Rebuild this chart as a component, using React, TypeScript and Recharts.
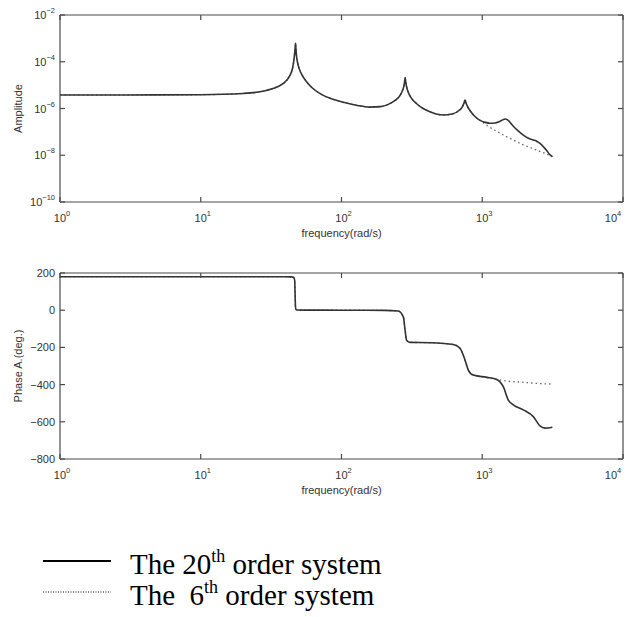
import React from 'react';
import { LineChart, Line, XAxis, YAxis } from 'recharts';

// ---------- data ----------
const freqTicks = [1, 10, 100, 1000, 10000];
const ampTicks = [1e-10, 1e-8, 1e-6, 1e-4, 1e-2];
const phaseTicks = [-800, -600, -400, -200, 0, 200];

// amplitude, 20th order system
const ampFreq20 = [1, 3, 10, 20, 27, 33, 37, 40.8, 43, 44.8, 46.0, 46.6, 47.0, 47.15, 47.3, 47.8, 48.6, 50, 53.5, 58, 63, 72, 85, 105, 130, 159, 190, 215, 240, 258, 270, 278, 282, 283.5, 285, 290, 298, 312, 342, 380, 425, 526, 610, 680, 720, 742, 752, 756, 765, 790, 818, 880, 964, 1050, 1135, 1230, 1330, 1420, 1460, 1520, 1662, 1800, 1957, 2150, 2305, 2450, 2570, 2720, 2870, 3000, 3150];
const amp20 = [3.8e-6, 3.8e-6, 3.9e-6, 4.4e-6, 5.3e-6, 7.3e-6, 1.0e-5, 1.6e-5, 2.6e-5, 5.0e-5, 1.3e-4, 2.7e-4, 5.0e-4, 6.2e-4, 4.8e-4, 2.0e-4, 1.0e-4, 5.2e-5, 2.2e-5, 1.15e-5, 7.0e-6, 4.0e-6, 2.6e-6, 1.8e-6, 1.35e-6, 1.15e-6, 1.2e-6, 1.5e-6, 2.2e-6, 3.3e-6, 5.5e-6, 9.5e-6, 1.7e-5, 2.1e-5, 1.6e-5, 8.5e-6, 5.0e-6, 2.9e-6, 1.6e-6, 1.0e-6, 7.3e-7, 5.3e-7, 5.8e-7, 8.0e-7, 1.15e-6, 1.7e-6, 2.2e-6, 2.3e-6, 1.8e-6, 1.15e-6, 8.2e-7, 4.8e-7, 3.1e-7, 2.55e-7, 2.35e-7, 2.4e-7, 2.8e-7, 3.4e-7, 3.55e-7, 3.2e-7, 1.75e-7, 1.1e-7, 7.3e-8, 5.2e-8, 4.5e-8, 3.9e-8, 3.2e-8, 2.3e-8, 1.6e-8, 1.1e-8, 8.7e-9];

// amplitude, 6th order system: identical up to the branch point, then its own tail
const ampBranch6 = 964;
const ampFreq6Tail = [1100, 1267, 1450, 1662, 1900, 2183, 2500, 2870, 3150];
const amp6Tail = [1.75e-7, 1.05e-7, 6.8e-8, 4.5e-8, 3.0e-8, 2.15e-8, 1.55e-8, 1.12e-8, 8.7e-9];

// phase, 20th order system
const phaseFreq20 = [1, 10, 40, 44, 45.8, 46.5, 46.8, 47.1, 47.5, 48.5, 55, 100, 200, 253, 275, 283, 290, 307, 425, 623, 695, 754, 796, 863, 1076, 1267, 1411, 1532, 1662, 1957, 2305, 2570, 2792, 3150];
const phase20 = [180, 180, 180, 179, 176, 160, 90, 20, 4, 1, 0.5, 0, -1, -4, -36, -107, -161, -173, -175, -184, -205, -268, -322, -349, -361, -372, -411, -483, -509, -536, -572, -622, -634, -629];

// phase, 6th order system
const phaseBranch6 = 1267;
const phaseFreq6Tail = [1500, 2000, 2600, 3150];
const phase6Tail = [-381, -388, -395, -397];

const legendItems = [
  { pre: 'The 20', sup: 'th', post: ' order system', dashed: false },
  { pre: 'The  6', sup: 'th', post: ' order system', dashed: true },
];

// ---------- build series ----------
const zip = (fs: number[], vs: number[]) => fs.map((f, i) => ({ f, v: vs[i] }));
const amp20Data = zip(ampFreq20, amp20);
const amp6Data = [...amp20Data.filter((d) => d.f <= ampBranch6), ...zip(ampFreq6Tail, amp6Tail)];
const phase20Data = zip(phaseFreq20, phase20);
const phase6Data = [...phase20Data.filter((d) => d.f <= phaseBranch6), ...zip(phaseFreq6Tail, phase6Tail)];

// ---------- styles ----------
const sans = '"Liberation Sans", Arial, Helvetica, sans-serif';
const serif = '"Liberation Serif", "Times New Roman", serif';
const axisColor = '#4a4a4a';
const textColor = '#333';
const curveColor = '#333';
const W = 631;

const supText = (e: number) => (e < 0 ? '\u2212' + -e : String(e));

const PowXTick = (props: any) => {
  const { x, y, payload } = props;
  const e = Math.round(Math.log10(payload.value));
  return (
    <text x={x + 2} y={y + 20} textAnchor="middle" fontFamily={sans} fontSize={11} fill={textColor}>
      <tspan>10</tspan>
      <tspan dy={-6} fontSize={7.5}>{supText(e)}</tspan>
    </text>
  );
};

const PowYTick = (props: any) => {
  const { x, y, payload } = props;
  const e = Math.round(Math.log10(payload.value));
  return (
    <text x={x} y={y + 4} textAnchor="end" fontFamily={sans} fontSize={11} fill={textColor}>
      <tspan>10</tspan>
      <tspan dy={-6} fontSize={7.5}>{supText(e)}</tspan>
    </text>
  );
};

const NumYTick = (props: any) => {
  const { x, y, payload } = props;
  const v = payload.value;
  const s = v < 0 ? '\u2212' + -v : String(v);
  return (
    <text x={x} y={y + 4} textAnchor="end" fontFamily={sans} fontSize={11} fill={textColor}>
      {s}
    </text>
  );
};

const NoTick = () => <g />;

const xTitle = (text: string) => (p: any) => {
  const vb = p.viewBox || {};
  return (
    <text x={vb.x + vb.width / 2} y={vb.y + 35} textAnchor="middle" fontFamily={sans} fontSize={11} fill={textColor}>
      {text}
    </text>
  );
};

const yTitle = (text: string) => (p: any) => {
  const vb = p.viewBox || {};
  const cx = 18;
  const cy = vb.y + vb.height / 2;
  return (
    <text x={cx} y={cy} textAnchor="middle" dominantBaseline="central" transform={`rotate(-90, ${cx}, ${cy})`} fontFamily={sans} fontSize={11} fill={textColor}>
      {text}
    </text>
  );
};

// top and right axes close the box (MATLAB style, ticks pointing inward)
const frameAxes = (yDomain: number[], yTicks: number[], yScale: 'log' | 'linear', data: any[]) => [
  <XAxis
    key="xt"
    xAxisId="top"
    dataKey="f"
    orientation="top"
    type="number"
    scale="log"
    domain={[1, 10000]}
    ticks={freqTicks}
    allowDataOverflow
    height={1}
    tick={<NoTick />}
    tickSize={-5}
    stroke={axisColor}
    strokeWidth={1.2}
  />,
  <YAxis
    key="yr"
    yAxisId="right"
    orientation="right"
    type="number"
    scale={yScale}
    domain={yDomain}
    ticks={yTicks}
    allowDataOverflow
    width={1}
    tick={<NoTick />}
    tickSize={-5}
    stroke={axisColor}
    strokeWidth={1.2}
  />,
  <Line
    key="frame-ref"
    xAxisId="top"
    yAxisId="right"
    data={data}
    dataKey="v"
    stroke="none"
    strokeWidth={0}
    dot={false}
    activeDot={false}
    legendType="none"
    isAnimationActive={false}
  />,
];

export default function App() {
  return (
    <div style={{ position: 'absolute', left: 0, top: 0, width: W, height: 617, background: '#fff' }}>
      {/* Amplitude */}
      <div style={{ position: 'absolute', left: 0, top: 0 }}>
        <LineChart width={W} height={250} margin={{ top: 14, right: 7, bottom: 0, left: 0 }}>
          <XAxis
            dataKey="f"
            type="number"
            scale="log"
            domain={[1, 10000]}
            ticks={freqTicks}
            allowDataOverflow
            height={48}
            tickSize={-5}
            tickMargin={5}
            tick={<PowXTick />}
            stroke={axisColor}
            strokeWidth={1.2}
            label={{ content: xTitle('frequency(rad/s)') }}
          />
          <YAxis
            type="number"
            scale="log"
            domain={[1e-10, 1e-2]}
            ticks={ampTicks}
            allowDataOverflow
            width={60}
            tickSize={-5}
            tickMargin={10}
            tick={<PowYTick />}
            stroke={axisColor}
            strokeWidth={1.2}
            label={{ content: yTitle('Amplitude') }}
          />
          {frameAxes([1e-10, 1e-2], ampTicks, 'log', amp20Data)}
          <Line data={amp6Data} dataKey="v" type="monotone" stroke="#666" strokeWidth={1.3} strokeDasharray="1.5 3" dot={false} isAnimationActive={false} />
          <Line data={amp20Data} dataKey="v" type="monotone" stroke={curveColor} strokeWidth={1.6} dot={false} isAnimationActive={false} />
        </LineChart>
      </div>

      {/* Phase */}
      <div style={{ position: 'absolute', left: 0, top: 259 }}>
        <LineChart width={W} height={248} margin={{ top: 13, right: 7, bottom: 0, left: 0 }}>
          <XAxis
            dataKey="f"
            type="number"
            scale="log"
            domain={[1, 10000]}
            ticks={freqTicks}
            allowDataOverflow
            height={48}
            tickSize={-5}
            tickMargin={5}
            tick={<PowXTick />}
            stroke={axisColor}
            strokeWidth={1.2}
            label={{ content: xTitle('frequency(rad/s)') }}
          />
          <YAxis
            type="number"
            domain={[-800, 200]}
            ticks={phaseTicks}
            allowDataOverflow
            width={60}
            tickSize={-5}
            tickMargin={10}
            tick={<NumYTick />}
            stroke={axisColor}
            strokeWidth={1.2}
            label={{ content: yTitle('Phase A.(deg.)') }}
          />
          {frameAxes([-800, 200], phaseTicks, 'linear', phase20Data)}
          <Line data={phase6Data} dataKey="v" type="monotone" stroke="#666" strokeWidth={1.3} strokeDasharray="1.5 3" dot={false} isAnimationActive={false} />
          <Line data={phase20Data} dataKey="v" type="monotone" stroke={curveColor} strokeWidth={1.6} dot={false} isAnimationActive={false} />
        </LineChart>
      </div>

      {/* Legend */}
      <svg style={{ position: 'absolute', left: 0, top: 530 }} width={W} height={87}>
        {legendItems.map((it, i) => {
          const base = 44 + i * 31;
          return (
            <g key={i}>
              <line
                x1={43}
                x2={111}
                y1={base - 13}
                y2={base - 13}
                stroke="#000"
                strokeWidth={it.dashed ? 1 : 1.8}
                strokeDasharray={it.dashed ? '1 1.5' : undefined}
              />
              <text x={130} y={base} fontFamily={serif} fontSize={29} fill="#000" style={{ whiteSpace: 'pre' }}>
                <tspan>{it.pre}</tspan>
                <tspan dy={-12} fontSize={18}>{it.sup}</tspan>
                <tspan dy={12}>{it.post}</tspan>
              </text>
            </g>
          );
        })}
      </svg>
    </div>
  );
}
